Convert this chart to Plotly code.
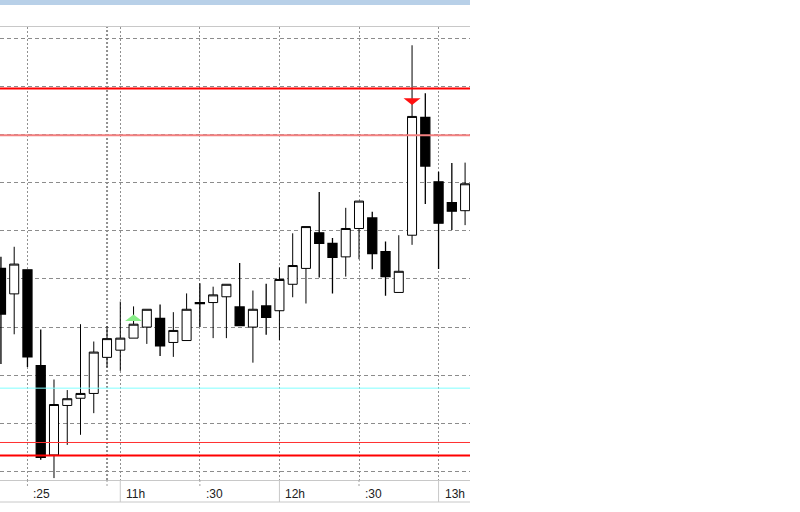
import plotly.graph_objects as go

# ---- data (5-minute bars) ----
bar_index = list(range(36))
opens = [1.30422, 1.30369, 1.30419, 1.30220, 1.30034, 1.30137, 1.30152, 1.30162, 1.30237, 1.30252,
         1.30277, 1.30300, 1.30318, 1.30268, 1.30272, 1.30351, 1.30351, 1.30363, 1.30342, 1.30300,
         1.30344, 1.30334, 1.30389, 1.30422, 1.30496, 1.30474, 1.30446, 1.30505, 1.30527, 1.30457,
         1.30372, 1.30491, 1.30736, 1.30602, 1.30559, 1.30542]
highs = [1.30446, 1.30467, 1.30419, 1.30295, 1.30191, 1.30169, 1.30306, 1.30270, 1.30302, 1.30353,
         1.30343, 1.30337, 1.30347, 1.30331, 1.30370, 1.30391, 1.30384, 1.30389, 1.30433, 1.30376,
         1.30390, 1.30424, 1.30495, 1.30509, 1.30581, 1.30485, 1.30548, 1.30562, 1.30540, 1.30478,
         1.30491, 1.30886, 1.30786, 1.30623, 1.30641, 1.30642]
lows = [1.30223, 1.30285, 1.30217, 1.30024, 1.29986, 1.30055, 1.30076, 1.30121, 1.30216, 1.30209,
        1.30277, 1.30265, 1.30240, 1.30238, 1.30272, 1.30300, 1.30277, 1.30277, 1.30303, 1.30226,
        1.30284, 1.30273, 1.30362, 1.30349, 1.30403, 1.30370, 1.30405, 1.30441, 1.30420, 1.30365,
        1.30372, 1.30471, 1.30556, 1.30421, 1.30502, 1.30512]
closes = [1.30327, 1.30431, 1.30238, 1.30029, 1.30139, 1.30151, 1.30162, 1.30248, 1.30276, 1.30277,
          1.30306, 1.30337, 1.30261, 1.30293, 1.30337, 1.30349, 1.30367, 1.30389, 1.30303, 1.30337,
          1.30320, 1.30399, 1.30428, 1.30509, 1.30474, 1.30445, 1.30505, 1.30562, 1.30453, 1.30405,
          1.30416, 1.30738, 1.30635, 1.30516, 1.30541, 1.30598]

# time axis labels (bar index -> label)
tick_idx = [2, 9, 15, 21, 27, 33]
tick_text = [":25", "11h", ":30", "12h", ":30", "13h"]
separator_idx = [8]

# horizontal levels
strong_levels = [1.30796, 1.30033]
weak_levels_upper = [1.30699]
weak_levels_lower = [1.30060]
cyan_levels = [1.30173]

# signal arrows
buy_idx = [10]
buy_price = [1.30319]
sell_idx = [31]
sell_price = [1.30769]

y_range = [1.29982, 1.30924]
x_range = [-0.071, 35.37]

fig = go.Figure()
fig.add_trace(go.Candlestick(
    x=bar_index, open=opens, high=highs, low=lows, close=closes,
    increasing=dict(line=dict(color="#000000", width=1), fillcolor="#ffffff"),
    decreasing=dict(line=dict(color="#000000", width=1.3), fillcolor="#000000"),
    whiskerwidth=0, showlegend=False, hoverinfo="skip"))

shapes = []
# top blue bar and band lines
shapes.append(dict(type="rect", xref="paper", yref="paper", x0=0, x1=1,
                   y0=(480 - 5) / 453, y1=(480 + 0) / 453,
                   fillcolor="#b8d0e8", line=dict(width=0), layer="above"))
shapes.append(dict(type="line", xref="paper", yref="paper", x0=0, x1=1,
                   y0=-22 / 453, y1=-22 / 453, line=dict(color="#c8c8c8", width=1)))
for i, t in zip(tick_idx, tick_text):
    if t.endswith("h"):
        shapes.append(dict(type="line", xref="x", yref="paper", x0=i, x1=i,
                           y0=0, y1=-22 / 453, line=dict(color="#c8c8c8", width=1)))
    else:
        shapes.append(dict(type="line", xref="x", yref="paper", x0=i, x1=i,
                           y0=0, y1=-8 / 453, line=dict(color="#a0a0a0", width=1, dash="2px,2px")))
for i in separator_idx:
    shapes.append(dict(type="line", xref="x", yref="paper", x0=i, x1=i, y0=0, y1=1,
                       line=dict(color="#909090", width=2, dash="2px,2px"), layer="below"))
    shapes.append(dict(type="line", xref="x", yref="paper", x0=i, x1=i,
                       y0=0, y1=-8 / 453, line=dict(color="#a0a0a0", width=1, dash="2px,2px")))

for v in strong_levels:
    shapes.append(dict(type="line", xref="paper", yref="y", x0=0, x1=1, y0=v, y1=v,
                       line=dict(color="#ff0000", width=2), layer="above"))
for v in weak_levels_upper:
    shapes.append(dict(type="line", xref="paper", yref="y", x0=0, x1=1, y0=v, y1=v,
                       line=dict(color="#f38080", width=2), layer="above"))
for v in weak_levels_lower:
    shapes.append(dict(type="line", xref="paper", yref="y", x0=0, x1=1, y0=v, y1=v,
                       line=dict(color="#ff3030", width=1), layer="above"))
for v in cyan_levels:
    shapes.append(dict(type="line", xref="paper", yref="y", x0=0, x1=1, y0=v, y1=v,
                       line=dict(color="#80ffff", width=1), layer="above"))

for i, p in zip(buy_idx, buy_price):
    shapes.append(dict(type="path", xref="x", yref="y", xsizemode="pixel", ysizemode="pixel",
                       xanchor=i, yanchor=p, path="M -8.5,-3 L 8.5,-3 L 0,3.5 Z",
                       fillcolor="#88ee88", line=dict(width=0), layer="above"))
for i, p in zip(sell_idx, sell_price):
    shapes.append(dict(type="path", xref="x", yref="y", xsizemode="pixel", ysizemode="pixel",
                       xanchor=i, yanchor=p, path="M -8.5,3.3 L 8.5,3.3 L 0,-3.5 Z",
                       fillcolor="#ff1010", line=dict(width=0), layer="above"))

annotations = []
for i, t in zip(tick_idx, tick_text):
    annotations.append(dict(x=i, y=-14 / 453, xref="x", yref="paper", text=t,
                            showarrow=False, xanchor="left", yanchor="middle", xshift=4,
                            font=dict(family="Liberation Sans, Arial", size=12, color="#202020")))

fig.update_layout(
    width=800, height=512,
    margin=dict(l=0, r=330, t=27, b=32),
    paper_bgcolor="#ffffff", plot_bgcolor="#ffffff",
    shapes=shapes, annotations=annotations,
    showlegend=False,
    boxgap=0.32, boxgroupgap=0,
    xaxis=dict(range=x_range, tickvals=tick_idx, showticklabels=False, ticks="",
               showgrid=True, gridcolor="#909090", griddash="2px,2px", gridwidth=1,
               zeroline=False, showline=True, mirror=True, linecolor="#c8c8c8", linewidth=1,
               rangeslider=dict(visible=False), fixedrange=True),
    yaxis=dict(range=y_range, dtick=0.001, tick0=1.3, showticklabels=False, ticks="",
               showgrid=True, gridcolor="#8c8c8c", griddash="4px,3px", gridwidth=1,
               zeroline=False, showline=False, fixedrange=True),
)

fig.write_html("out.html", config={"displayModeBar": False},
               post_script="document.body.style.margin='0';")
